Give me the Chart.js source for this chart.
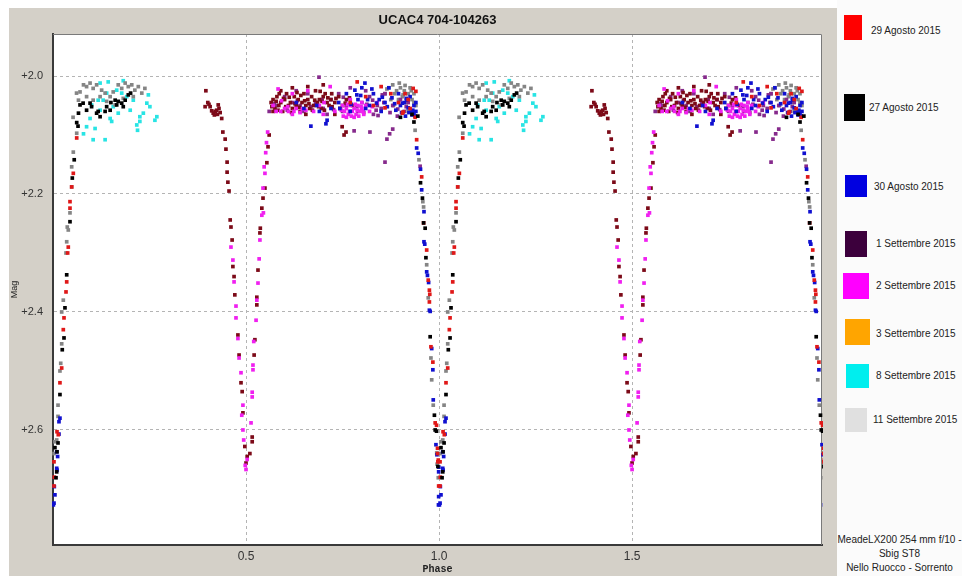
<!DOCTYPE html>
<html><head><meta charset="utf-8">
<script src="https://cdn.jsdelivr.net/npm/chart.js@4.4.0/dist/chart.umd.min.js"></script>
<style>
html,body{margin:0;padding:0;background:#fff;width:962px;height:576px;overflow:hidden;font-family:"Liberation Sans",Arial,sans-serif;}
#frame{position:absolute;left:9px;top:8px;width:828px;height:568px;background:#d4d0c8;}
#legend{position:absolute;left:837px;top:0;width:125px;height:576px;background:#fbfbfb;}
.sw{position:absolute;}
.lb{position:absolute;font-size:10px;color:#222;white-space:nowrap;line-height:12px;}
#foot{position:absolute;left:0;width:125px;top:533px;text-align:center;font-size:10px;line-height:14px;color:#222;}
</style></head>
<body>
<div id="frame"><canvas id="c" width="828" height="568"></canvas></div>
<div id="legend"></div>
<script>
// ---------- data (phase, magnitude) for one cycle; chart shows phase 0..2 ----------
const chartTitle = "UCAC4 704-104263";
const xTicks = [0.5, 1.0, 1.5];
const yTicks = [2.0, 2.2, 2.4, 2.6];
const legendLabels = ["29 Agosto 2015","27 Agosto 2015","30 Agosto 2015","1 Settembre 2015","2 Settembre 2015","3 Settembre 2015","8 Settembre 2015","11 Settembre 2015"];
const footLines = ["MeadeLX200 254 mm f/10 -","Sbig ST8","Nello Ruocco - Sorrento"];

const ago29 = [[0.0026,2.654],[0.0034,2.68],[0.0026,2.695],[0.0104,2.603],[0.0137,2.608],[0.018,2.52],[0.0225,2.495],[0.0267,2.43],[0.0285,2.41],[0.0337,2.366],[0.0355,2.349],[0.038,2.30],[0.0396,2.29],[0.044,2.224],[0.044,2.213],[0.0484,2.188],[0.0526,2.165],[0.0614,2.105],
 [0.942,2.108],[0.955,2.171],[0.96,2.249],[0.968,2.295],[0.972,2.346],[0.975,2.363],[0.976,2.37],[0.975,2.383],[0.979,2.459],[0.984,2.485],[0.99,2.588],[0.9935,2.592],[0.996,2.631],[0.996,2.64],[0.998,2.651],[0.997,2.654],[0.999,2.695],
 [0.933,2.021],[0.907,2.061],[0.788,2.01],[0.85,2.018],[0.86,2.054],[0.905,2.063],[0.938,2.07],[0.92,2.04],[0.895,2.045],[0.875,2.03],[0.83,2.05],[0.81,2.035],[0.77,2.045],[0.925,2.055],[0.94,2.026],[0.912,2.03]];

const ago27 = [[0.013,2.622],[0.0104,2.637],[0.0078,2.681],[0.005,2.63],[0.0096,2.671],[0.018,2.54],[0.024,2.464],[0.0285,2.444],[0.031,2.393],[0.0355,2.337],[0.044,2.247],[0.05,2.173],[0.055,2.142],[0.0648,2.085],[0.0614,2.079],
 [0.07,2.049],[0.078,2.046],[0.087,2.058],[0.1,2.052],[0.113,2.063],[0.122,2.069],[0.117,2.06],[0.139,2.052],[0.148,2.058],[0.161,2.041],[0.169,2.043],[0.178,2.046],[0.187,2.041],[0.195,2.032],[0.201,2.029],[0.135,2.06],[0.066,2.063],[0.15,2.045],[0.096,2.046],[0.165,2.049],[0.182,2.052],
 [0.935,2.078],[0.952,2.181],[0.957,2.207],[0.96,2.249],[0.964,2.258],[0.966,2.308],[0.977,2.442],[0.988,2.575],[0.9935,2.602],[0.997,2.662],[0.99,2.6],
 [0.9,2.07],[0.93,2.065],[0.945,2.068]];

const ago30 = [[0.0155,2.586],[0.0155,2.607],[0.018,2.58],[0.0096,2.637],[0.012,2.645],[0.0104,2.668],[0.0096,2.665],[0.0034,2.696],[0.005,2.71],[0.0026,2.724],[0.001,2.727],
 [0.916,2.041],[0.929,2.061],[0.935,2.063],[0.942,2.122],[0.946,2.131],[0.952,2.158],[0.955,2.193],[0.961,2.23],[0.961,2.281],[0.963,2.285],[0.968,2.332],[0.97,2.338],[0.973,2.35],[0.975,2.397],[0.977,2.399],[0.981,2.462],[0.984,2.498],[0.985,2.549],[0.992,2.625],[0.9945,2.642],[0.9995,2.663],[0.999,2.671],[0.999,2.713],[0.9985,2.727],
 [0.668,2.085],[0.707,2.081],[0.71,2.075],[0.782,2.024],[0.80,2.02],[0.808,2.012],[0.83,2.03],[0.845,2.04],[0.878,2.037],[0.885,2.047],[0.92,2.054],[0.93,2.066],[0.94,2.06],[0.9,2.05],[0.86,2.045],[0.82,2.05],[0.79,2.04],[0.76,2.03],[0.74,2.045],[0.72,2.055],[0.69,2.06],[0.65,2.055],[0.63,2.045],[0.77,2.06],[0.81,2.055],[0.85,2.06],[0.87,2.02],[0.895,2.03],[0.91,2.045],[0.925,2.035],[0.935,2.05],[0.94,2.045],
 [0.797,2.033],[0.815,2.04],[0.826,2.022],[0.838,2.046],[0.853,2.036],[0.866,2.052],[0.888,2.058],[0.903,2.062],[0.913,2.068],[0.922,2.062],[0.932,2.058],[0.938,2.068],[0.772,2.048],[0.787,2.032],[0.743,2.055],[0.683,2.05],[0.915,2.038],[0.905,2.046]];

const set1a = [[0.396,2.025],[0.401,2.045],[0.394,2.052],[0.407,2.052],[0.411,2.059],[0.415,2.063],[0.42,2.06],[0.424,2.058],[0.428,2.049],[0.433,2.062],[0.437,2.072],[0.404,2.048],[0.418,2.066],[0.426,2.065],[0.43,2.055],
 [0.44,2.095],[0.446,2.107],[0.448,2.124],[0.451,2.146],[0.451,2.163],[0.453,2.18],[0.456,2.195],[0.459,2.244],[0.461,2.256],[0.464,2.278],[0.466,2.323],[0.469,2.34],[0.471,2.371],[0.479,2.439],[0.482,2.473],[0.487,2.52],[0.49,2.535],[0.492,2.571],[0.497,2.628],[0.503,2.645],[0.5,2.656],
 [0.516,2.612],[0.516,2.62],[0.521,2.473],[0.523,2.447],[0.528,2.388],[0.528,2.375],[0.531,2.329],[0.536,2.266],[0.537,2.258],[0.541,2.224],[0.544,2.207],[0.549,2.19],[0.554,2.147],[0.557,2.12],[0.56,2.1],[0.51,2.64],
 [0.565,2.045],[0.57,2.04],[0.575,2.055],[0.58,2.035],[0.585,2.05],[0.59,2.045],[0.595,2.06],[0.60,2.04],[0.605,2.03],[0.61,2.05],[0.615,2.045],[0.62,2.055],[0.625,2.035],[0.63,2.05],[0.635,2.04],[0.64,2.06],[0.645,2.045],[0.65,2.03],[0.655,2.05],[0.66,2.04],[0.665,2.055],[0.67,2.035],[0.675,2.05],[0.68,2.025],[0.685,2.045],[0.69,2.04],[0.695,2.055],[0.70,2.035],[0.705,2.03],[0.71,2.045],[0.715,2.05],[0.72,2.04],[0.73,2.045],[0.74,2.035],[0.75,2.05],[0.76,2.04],[0.57,2.06],[0.59,2.025],[0.62,2.02],[0.66,2.018],[0.70,2.015],
 [0.749,2.086],[0.759,2.095],[0.754,2.1],[0.73,2.065],[0.655,2.065],
 [0.567,2.052],[0.578,2.043],[0.583,2.058],[0.597,2.038],[0.603,2.052],[0.612,2.036],[0.618,2.062],[0.627,2.047],[0.638,2.053],[0.642,2.033],[0.652,2.042],[0.663,2.047],[0.672,2.058],[0.678,2.041],[0.688,2.052],[0.697,2.043],[0.703,2.058],[0.712,2.037],[0.723,2.052],[0.733,2.038],[0.743,2.055],[0.757,2.046],[0.768,2.037],[0.776,2.05],[0.632,2.028],[0.692,2.026],[0.586,2.03],[0.722,2.03]];

const set1b = [[0.689,2.002],[0.56,2.06],[0.58,2.05],[0.60,2.035],[0.62,2.045],[0.64,2.05],[0.66,2.03],[0.68,2.045],[0.70,2.055],[0.72,2.04],[0.74,2.03],[0.76,2.05],[0.78,2.093],[0.80,2.045],[0.82,2.035],[0.821,2.095],[0.84,2.05],[0.86,2.146],[0.865,2.107],[0.872,2.098],[0.88,2.09],[0.86,2.03],[0.88,2.05],[0.90,2.04],[0.91,2.06],[0.92,2.045],[0.79,2.06],[0.83,2.065],[0.85,2.055],[0.75,2.06],[0.71,2.065],[0.65,2.06],[0.63,2.025],[0.77,2.02],[0.81,2.025],[0.951,2.153],
 [0.573,2.047],[0.607,2.058],[0.633,2.042],[0.668,2.052],[0.697,2.04],[0.727,2.057],[0.752,2.036],[0.787,2.052],[0.813,2.048],[0.837,2.058],[0.857,2.045],[0.873,2.062],[0.893,2.056],[0.915,2.052],[0.853,2.032],[0.828,2.041],[0.805,2.062],[0.842,2.067],[0.892,2.068]];

const set2 = [[0.461,2.29],[0.466,2.312],[0.469,2.349],[0.474,2.39],[0.474,2.41],[0.479,2.445],[0.482,2.478],[0.487,2.503],[0.492,2.558],[0.492,2.6],[0.494,2.617],[0.503,2.65],[0.5,2.667],[0.498,2.66],[0.489,2.575],
 [0.516,2.544],[0.516,2.536],[0.518,2.498],[0.518,2.49],[0.526,2.414],[0.528,2.38],[0.531,2.351],[0.534,2.31],[0.536,2.278],[0.541,2.236],[0.544,2.19],[0.547,2.154],[0.549,2.165],[0.551,2.13],[0.545,2.232],[0.553,2.113],[0.556,2.095],[0.513,2.588],[0.52,2.45],
 [0.583,2.022],[0.718,2.018],[0.6,2.055],[0.61,2.06],[0.62,2.065],[0.63,2.055],[0.64,2.062],[0.655,2.058],[0.57,2.05],[0.59,2.06],[0.675,2.06],[0.69,2.05],[0.70,2.065],[0.75,2.05],[0.755,2.06],[0.76,2.055],[0.765,2.065],[0.77,2.05],[0.775,2.06],[0.78,2.055],[0.785,2.065],[0.79,2.05],[0.795,2.06],[0.80,2.055],[0.805,2.065],[0.81,2.05],[0.76,2.07],[0.78,2.07],[0.80,2.045],[0.77,2.04],[0.82,2.06],[0.84,2.045],[0.73,2.06],[0.66,2.025],[0.62,2.03],
 [0.747,2.058],[0.752,2.068],[0.763,2.048],[0.768,2.06],[0.773,2.068],[0.783,2.048],[0.788,2.058],[0.792,2.068],[0.798,2.052],[0.803,2.06],[0.608,2.052],[0.624,2.06],[0.646,2.056],[0.578,2.06],[0.702,2.045],[0.827,2.052],[0.592,2.042]];

const set3 = [];

const set8 = [[0.143,2.01],[0.182,2.008],[0.247,2.032],[0.104,2.108],[0.135,2.108],[0.079,2.098],[0.219,2.092],[0.264,2.075],[0.269,2.069],[0.087,2.086],[0.096,2.072],[0.109,2.089],[0.122,2.058],[0.13,2.041],[0.139,2.029],[0.148,2.072],[0.152,2.077],[0.156,2.052],[0.169,2.063],[0.178,2.029],[0.191,2.035],[0.2,2.058],[0.208,2.041],[0.225,2.069],[0.234,2.063],[0.243,2.046],[0.251,2.052],[0.225,2.077],[0.217,2.083],[0.117,2.041],[0.1,2.049],[0.165,2.024],[0.122,2.012]];

const set11 = [[0.013,2.558],[0.013,2.577],[0.005,2.62],[0.0026,2.64],[0.0096,2.617],[0.018,2.5],[0.02,2.487],[0.0225,2.454],[0.0225,2.4],[0.0267,2.38],[0.0355,2.281],[0.037,2.256],[0.0396,2.261],[0.0337,2.3],[0.044,2.232],[0.0484,2.188],[0.0484,2.154],[0.0526,2.129],[0.0614,2.097],[0.052,2.07],
 [0.061,2.029],[0.07,2.027],[0.079,2.015],[0.087,2.018],[0.096,2.012],[0.104,2.021],[0.113,2.015],[0.126,2.024],[0.135,2.029],[0.148,2.035],[0.156,2.027],[0.169,2.015],[0.178,2.021],[0.187,2.012],[0.195,2.018],[0.204,2.015],[0.212,2.024],[0.221,2.018],[0.23,2.029],[0.238,2.021],[0.122,2.035],[0.139,2.043],[0.182,2.038],[0.087,2.035],[0.066,2.041],[0.208,2.035],[0.161,2.049],[0.104,2.041],
 [0.86,2.03],[0.87,2.02],[0.875,2.04],[0.88,2.015],[0.885,2.03],[0.89,2.025],[0.895,2.04],[0.90,2.02],[0.905,2.035],[0.91,2.025],[0.915,2.045],[0.92,2.03],[0.925,2.02],[0.93,2.04],[0.935,2.03],[0.94,2.05],[0.907,2.032],[0.92,2.06],
 [0.865,2.022],[0.897,2.012],[0.912,2.016],[0.928,2.025],[0.935,2.045],[0.882,2.05],
 [0.938,2.092],[0.948,2.142],[0.958,2.213],[0.96,2.222],[0.968,2.32],[0.972,2.376],[0.979,2.478],[0.981,2.515],[0.985,2.558],[0.994,2.639],[0.995,2.658],[0.998,2.681]];

// ---------- styles / layout (first dataset is drawn on top) ----------
const seriesDefs = [
  {name: legendLabels[1], data: ago27, color: '#000000'},
  {name: legendLabels[0], data: ago29, color: '#e01818'},
  {name: legendLabels[2], data: ago30, color: '#1010d0'},
  {name: legendLabels[4], data: set2,  color: '#f020f0'},
  {name: legendLabels[3], data: set1a, color: '#7c0a18'},
  {name: legendLabels[3], data: set1b, color: '#862a8c'},
  {name: legendLabels[5], data: set3,  color: '#ffa500'},
  {name: legendLabels[7], data: set11, color: '#858585'},
  {name: legendLabels[6], data: set8,  color: '#28e4e4'}
];
const legendColors = ['#ff0000','#000000','#0000e0','#3c003c','#ff00ff','#ffa500','#00eeee','#e0e0e0'];
const legendBoxes = [[844,15,18,25,871,31],[844,94,21,27,869,108],[845,175,22,22,874,187],[845,231,22,26,876,244],[843,273,26,26,876,286],[845,319,25,26,876,334],[846,364,23,24,876,376],[845,408,22,24,873,420]];

// legend (HTML)
const lg = document.getElementById('legend');
legendLabels.forEach((t,i)=>{
  const b = legendBoxes[i];
  const s = document.createElement('div'); s.className='sw';
  s.style.cssText = `left:${b[0]-837}px;top:${b[1]}px;width:${b[2]}px;height:${b[3]}px;background:${legendColors[i]};`;
  lg.appendChild(s);
  const l = document.createElement('div'); l.className='lb'; l.textContent = t;
  l.style.cssText = `left:${b[4]-837}px;top:${b[5]-6}px;`;
  lg.appendChild(l);
});
const ft = document.createElement('div'); ft.id='foot'; ft.innerHTML = footLines.join('<br>'); lg.appendChild(ft);

// two cycles
function twoCycles(arr){ return arr.map(p=>({x:p[0],y:p[1]})).concat(arr.map(p=>({x:p[0]+1,y:p[1]}))); }

const framePlugin = {
  id: 'framePlugin',
  beforeDraw(chart){
    const {ctx, chartArea:a} = chart;
    ctx.save(); ctx.fillStyle = '#ffffff';
    ctx.fillRect(a.left, a.top, a.right-a.left, a.bottom-a.top);
    ctx.restore();
  },
  beforeDatasetsDraw(chart){
    const {ctx, chartArea:a} = chart;
    ctx.save(); ctx.strokeStyle = '#7a7a7a'; ctx.lineWidth = 1;
    ctx.beginPath();
    ctx.moveTo(a.left, a.top+0.5); ctx.lineTo(a.right-0.5, a.top+0.5); ctx.lineTo(a.right-0.5, a.bottom);
    ctx.stroke(); ctx.restore();
  },
  afterDraw(chart){
    const {ctx, chartArea:a} = chart;
    ctx.save(); ctx.fillStyle = '#111'; ctx.font = 'bold 13px "Liberation Sans", Arial, sans-serif';
    ctx.textAlign = 'center'; ctx.textBaseline = 'middle';
    ctx.fillText(chartTitle, (a.left+a.right)/2, 12);
    ctx.restore();
  }
};

new Chart(document.getElementById('c'), {
  type: 'scatter',
  data: { datasets: seriesDefs.map(s=>({
    label: s.name, data: twoCycles(s.data), backgroundColor: s.color, borderColor: s.color,
    pointStyle: 'rect', pointRadius: 2.6, pointHoverRadius: 2.6, borderWidth: 0, clip: 1
  })) },
  options: {
    responsive: false, animation: false, devicePixelRatio: 1,
    layout: { padding: {top: 26, right: 15, left: 0, bottom: 0} },
    plugins: { legend: {display: false}, title: {display: false}, tooltip: {enabled: false} },
    scales: {
      x: {
        type: 'linear', min: 0, max: 1.992,
        afterBuildTicks: s => { s.ticks = xTicks.map(v=>({value:v})); },
        afterFit: s => { s.height = 31; },
        ticks: { callback: v => Number(v).toFixed(1), color: '#333', font: {size: 12, family: '"Liberation Sans", Arial, sans-serif'}, padding: 4, maxRotation: 0 },
        grid: { color: '#b4b4b4', drawTicks: false, lineWidth: 1 },
        border: { display: true, color: '#3a3a3a', width: 2, dash: [3,3] },
        title: { display: true, text: 'Phase', color: '#222', font: {size: 10, weight: 'bold', family: '"Liberation Mono", "Courier New", monospace'}, padding: {top: 0, bottom: 1} }
      },
      y: {
        type: 'linear', reverse: true, min: 1.9288, max: 2.795,
        afterBuildTicks: s => { s.ticks = yTicks.map(v=>({value:v})); },
        afterFit: s => { s.width = 44; },
        ticks: { callback: v => '+' + Number(v).toFixed(1), color: '#333', font: {size: 11, family: '"Liberation Sans", Arial, sans-serif'}, padding: 10 },
        grid: { color: '#b4b4b4', drawTicks: false, lineWidth: 1 },
        border: { display: true, color: '#3a3a3a', width: 2, dash: [3,3] },
        title: { display: true, text: 'Mag', color: '#222', font: {size: 9, family: '"Liberation Sans", Arial, sans-serif'}, padding: {top: 0, bottom: 0} }
      }
    }
  },
  plugins: [framePlugin]
});
</script>
</body></html>
